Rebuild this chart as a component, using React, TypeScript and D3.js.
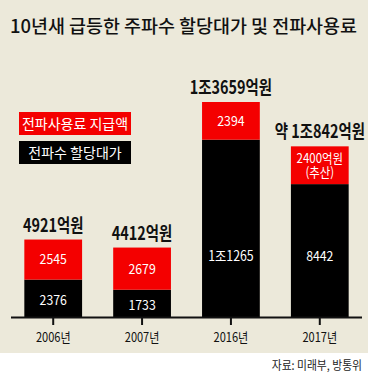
import React, { useEffect, useRef } from 'react';
import * as d3 from 'd3';

const years = ['2006년', '2007년', '2016년', '2017년'];
const allocation = [2376, 1733, 11265, 8442]; // 전파수 할당대가
const usageFee = [2545, 2679, 2394, 2400]; // 전파사용료 지급액
const allocationLabels = ['2376', '1733', '1조1265', '8442'];
const usageLabels = [['2545'], ['2679'], ['2394'], ['2400억원', '(추산)']];
const totalLabels = ['4921억원', '4412억원', '1조3659억원', '약 1조842억원'];

const W = 368;
const H = 373;
const FONT = "'Noto Sans CJK KR', 'Noto Sans', sans-serif";

export default function App() {
  const ref = useRef<SVGSVGElement>(null);

  useEffect(() => {
    const svg = d3.select(ref.current);
    svg.selectAll('*').remove();

    // background
    svg.append('rect').attr('width', W).attr('height', H).attr('fill', '#fff');
    svg.append('rect').attr('width', W).attr('height', 353).attr('fill', '#ECE9DA');

    // title
    svg.append('text')
      .attr('x', 10).attr('y', 33)
      .attr('font-family', FONT).attr('font-size', 18).attr('font-weight', 500)
      .attr('fill', '#111')
      .attr('textLength', 347).attr('lengthAdjust', 'spacingAndGlyphs')
      .text('10년새 급등한 주파수 할당대가 및 전파사용료');

    // legend
    const legend = [
      { label: '전파사용료 지급액', color: '#F40000' },
      { label: '전파수 할당대가', color: '#000' },
    ];
    legend.forEach((d, i) => {
      const g = svg.append('g').attr('transform', `translate(19,${112 + i * 29})`);
      g.append('rect').attr('width', 112).attr('height', 23).attr('fill', d.color);
      g.append('text')
        .attr('x', 56).attr('y', 12).attr('dy', '0.35em')
        .attr('text-anchor', 'middle')
        .attr('font-family', FONT).attr('font-size', 14).attr('fill', '#fff')
        .text(d.label);
    });

    const x = d3.scaleBand().domain(years).range([11, 362]).paddingInner(0.35).paddingOuter(0.15);
    const y = d3.scaleLinear().domain([0, 13659]).range([317, 102]);

    const stack = d3.stack<number>()
      .keys(['allocation', 'usage'])
      .value((i, key) => (key === 'allocation' ? allocation[i] : usageFee[i]));
    const series = stack(d3.range(years.length));
    const colors = ['#000', '#F40000'];

    series.forEach((s, si) => {
      svg.append('g').selectAll('rect')
        .data(s)
        .join('rect')
        .attr('x', (_, i) => x(years[i])!)
        .attr('width', x.bandwidth())
        .attr('y', d => y(d[1]))
        .attr('height', d => y(d[0]) - y(d[1]))
        .attr('fill', colors[si]);
    });

    const cond = (g: any, cx: number, cy: number, sx: number) =>
      g.attr('transform', `translate(${cx},${cy}) scale(${sx},1)`);

    // segment labels
    series[0].forEach((d, i) => {
      const cx = x(years[i])! + x.bandwidth() / 2;
      const cy = Math.max((y(d[0]) + y(d[1])) / 2 + 2, 256);
      const g = svg.append('g');
      cond(g, cx, cy, 0.88);
      g.append('text').attr('text-anchor', 'middle').attr('dy', '0.35em')
        .attr('font-family', FONT).attr('font-size', 14).attr('fill', '#fff')
        .text(allocationLabels[i]);
    });
    series[1].forEach((d, i) => {
      const cx = x(years[i])! + x.bandwidth() / 2;
      const cy = (y(d[0]) + y(d[1])) / 2;
      const lines = usageLabels[i];
      const g = svg.append('g');
      cond(g, cx, cy, 0.88);
      const t = g.append('text').attr('text-anchor', 'middle')
        .attr('font-family', FONT).attr('font-size', lines.length > 1 ? 13 : 14).attr('fill', '#fff');
      lines.forEach((s, li) => {
        t.append('tspan').attr('x', 0)
          .attr('y', (li - (lines.length - 1) / 2) * 13.5)
          .attr('dy', '0.35em')
          .text(s);
      });
    });

    // totals
    series[1].forEach((d, i) => {
      const cx = x(years[i])! + x.bandwidth() / 2;
      const g = svg.append('g');
      cond(g, cx, y(d[1]) - 8, 0.8);
      g.append('text').attr('text-anchor', 'middle')
        .attr('font-family', FONT).attr('font-size', 18).attr('font-weight', 700)
        .attr('fill', '#111')
        .text(totalLabels[i]);
    });

    // axis
    svg.append('line').attr('x1', 11).attr('x2', 362).attr('y1', 317.5).attr('y2', 317.5)
      .attr('stroke', '#111').attr('stroke-width', 2);
    years.forEach(yr => {
      const cx = x(yr)! + x.bandwidth() / 2;
      svg.append('line').attr('x1', cx).attr('x2', cx).attr('y1', 317).attr('y2', 325)
        .attr('stroke', '#111').attr('stroke-width', 2);
      const g = svg.append('g');
      cond(g, cx, 337, 0.85);
      g.append('text').attr('text-anchor', 'middle').attr('dy', '0.35em')
        .attr('font-family', FONT).attr('font-size', 13).attr('fill', '#111')
        .text(yr);
    });

    // source
    const src = svg.append('g');
    cond(src, 362, 366, 0.9);
    src.append('text').attr('text-anchor', 'end').attr('dy', '0.35em')
      .attr('font-family', FONT).attr('font-size', 12).attr('fill', '#222')
      .text('자료: 미래부, 방통위');
  }, []);

  return (
    <svg ref={ref} width={W} height={H}
      style={{ position: 'absolute', left: 0, top: 0, display: 'block' }} />
  );
}
